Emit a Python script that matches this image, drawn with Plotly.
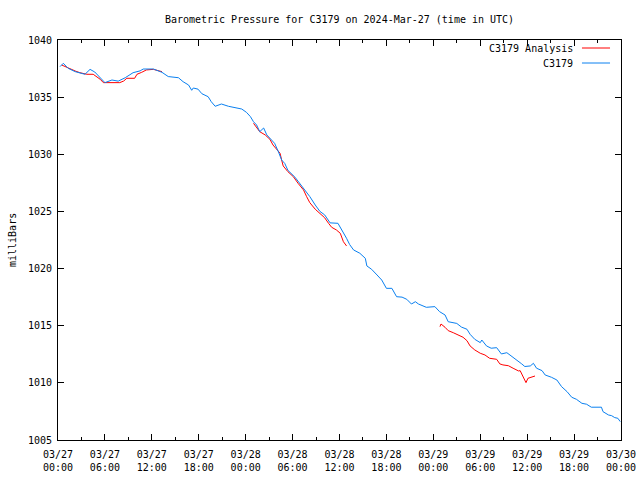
import datetime as dt
import plotly.graph_objects as go

BASE = dt.datetime(2024, 3, 27, 0, 0)

# C3179 observations: hours since 2024-03-27 00:00 UTC, pressure (mb)
obs_hours = [0.26, 0.68, 1.3, 2.2, 3.45, 4.1, 4.7, 5.4, 6.0, 6.9, 7.7, 8.6, 9.6, 10.5, 10.9,
             12.2, 13.3, 14.1, 15.4, 16.0, 16.7, 17.1, 17.3, 17.9, 18.4, 19.2, 19.6, 20.1,
             20.9, 21.8, 22.6, 23.5, 24.1, 24.6, 25.0, 25.4, 25.8, 26.3, 26.7, 27.3, 27.7,
             28.2, 28.6, 29.0, 29.4, 30.3, 30.9, 31.6, 32.2, 32.9, 33.5, 34.1, 34.8, 35.8,
             36.3, 36.9, 37.3, 37.8, 38.6, 39.3, 39.5, 40.1, 40.8, 41.4, 42.0, 42.7, 43.3,
             44.0, 44.6, 45.2, 45.7, 46.1, 47.1, 48.2, 48.8, 49.5, 49.9, 50.5, 51.0, 51.6,
             52.3, 52.7, 53.3, 54.0, 54.2, 54.8, 55.4, 56.1, 56.7, 57.4, 58.0, 58.9, 59.3,
             59.7, 60.4, 60.8, 61.2, 61.9, 62.3, 63.1, 63.8, 64.4, 65.1, 65.7, 66.3, 67.0,
             67.6, 68.2, 69.5, 69.7, 70.4, 70.8, 71.2, 71.6, 71.9]
obs_mb = [1037.67, 1037.96, 1037.52, 1037.23, 1037.0, 1037.43, 1037.2, 1036.65, 1036.27,
          1036.5, 1036.4, 1036.7, 1037.14, 1037.3, 1037.46, 1037.46, 1037.17, 1036.8, 1036.7,
          1036.35, 1036.06, 1035.6, 1035.8, 1035.7, 1035.3, 1035.04, 1034.6, 1034.2, 1034.4,
          1034.2, 1034.08, 1033.96, 1033.67, 1033.3, 1032.85, 1032.56, 1031.98, 1032.3,
          1031.7, 1031.25, 1030.96, 1030.2, 1029.5, 1029.2, 1028.6, 1028.0, 1027.46, 1026.9,
          1026.3, 1025.56, 1025.0, 1024.7, 1024.0, 1023.96, 1023.4, 1022.65, 1022.1, 1021.63,
          1021.34, 1020.9, 1020.23, 1019.94, 1019.44, 1019.0, 1018.27, 1018.27, 1017.54,
          1017.5, 1017.31, 1016.9, 1017.1, 1016.9, 1016.61, 1016.67, 1016.23, 1015.94,
          1015.35, 1015.24, 1015.2, 1014.88, 1014.69, 1014.25, 1013.81, 1013.52, 1013.75,
          1013.23, 1013.03, 1013.08, 1012.53, 1012.64, 1012.35, 1011.86, 1011.66, 1011.43,
          1011.48, 1011.71, 1011.28, 1011.07, 1010.69, 1010.49, 1010.25, 1009.67, 1009.23,
          1008.74, 1008.56, 1008.21, 1008.13, 1007.87, 1007.87, 1007.48, 1007.19, 1007.13,
          1006.96, 1006.9, 1006.61]

# C3179 Analysis (None = gap)
ana_hours = [0.47, 0.9, 1.3, 2.2, 2.8, 3.7, 4.5, 4.9, 5.4, 5.8, 6.6, 7.9, 8.4, 8.8, 9.8,
             10.1, 10.7, 11.3, 12.2, 13.0, 13.3, 19.0,
             25.0, 25.8, 26.5, 27.1, 27.5, 28.0, 28.4, 28.6, 28.8, 29.4, 30.1, 30.7, 31.4,
             31.8, 32.2, 32.9, 33.5, 34.1, 34.6, 35.0, 35.6, 36.1, 36.5, 36.9, 43.0,
             48.85, 48.98, 49.5, 49.9, 50.55, 51.2, 51.8, 52.3, 52.7, 53.3, 54.0, 54.6, 55.2,
             56.1, 56.5, 56.9, 57.6, 58.2, 58.9, 59.1, 59.5, 59.85, 60.1, 60.6, 61.0]
ana_mb = [1037.81, 1037.67, 1037.58, 1037.29, 1037.14, 1037.0, 1037.0, 1036.8, 1036.56,
          1036.27, 1036.27, 1036.27, 1036.41, 1036.65, 1036.65, 1037.0, 1037.17, 1037.38,
          1037.43, 1037.29, 1037.23, None,
          1032.71, 1031.98, 1031.69, 1031.31, 1030.81, 1030.38, 1030.09, 1029.5, 1028.98,
          1028.48, 1028.04, 1027.46, 1026.88, 1026.29, 1025.77, 1025.19, 1024.84, 1024.45,
          1023.96, 1023.61, 1023.38, 1023.09, 1022.35, 1021.98, None,
          1014.92, 1015.15, 1014.86, 1014.57, 1014.39, 1014.19, 1013.99, 1013.69, 1013.23,
          1012.88, 1012.59, 1012.44, 1012.15, 1012.06, 1011.66, 1011.57, 1011.5, 1011.28,
          1011.04, 1011.07, 1010.49, 1010.02, 1010.4, 1010.54, 1010.6]

Y_RANGE = [1005, 1040]
X_START = BASE
X_END = BASE + dt.timedelta(days=3)

RED = "#ff0000"
BLUE = "#0a80f0"
FONT = "DejaVu Sans Mono"


def to_time(hours):
    return [BASE + dt.timedelta(hours=h) for h in hours]


fig = go.Figure()
fig.add_trace(go.Scatter(x=to_time(ana_hours), y=ana_mb, mode="lines",
                         line=dict(color=RED, width=1), connectgaps=False,
                         name="C3179 Analysis", showlegend=False))
fig.add_trace(go.Scatter(x=to_time(obs_hours), y=obs_mb, mode="lines",
                         line=dict(color=BLUE, width=1),
                         name="C3179", showlegend=False))

axis_common = dict(showgrid=False, zeroline=False, showline=True, linecolor="black",
                   linewidth=1, mirror="ticks", ticks="inside", tickcolor="black",
                   automargin=False,
                   tickfont=dict(family=FONT, size=10, color="black"))

fig.update_xaxes(type="date", range=[X_START, X_END], dtick=6 * 3600 * 1000,
                 tick0=X_START, tickformat="%m/%d<br>%H:%M", ticklen=6,
                 ticklabelstandoff=5,
                 minor=dict(dtick=3 * 3600 * 1000, ticks="inside", ticklen=3,
                            tickcolor="black", showgrid=False),
                 **axis_common)
fig.update_yaxes(range=Y_RANGE, dtick=5, ticklen=6, ticklabelstandoff=3, **axis_common)

# Legend drawn gnuplot-style (text right, sample to its right)
legend_items = [("C3179 Analysis", RED, 0.98), ("C3179", BLUE, 0.9425)]
for label, color, yp in legend_items:
    fig.add_annotation(x=0.918, y=yp, xref="paper", yref="paper", text=label,
                       showarrow=False, xanchor="right", yanchor="middle",
                       font=dict(family=FONT, size=10, color="black"))
    fig.add_shape(type="line", xref="paper", yref="paper", x0=0.9307, x1=0.9805,
                  y0=yp, y1=yp, line=dict(color=color, width=1))

fig.add_annotation(x=-0.0817, y=0.5, xref="paper", yref="paper", text="milliBars",
                   textangle=-90, showarrow=False, xanchor="center", yanchor="middle",
                   font=dict(family=FONT, size=10, color="black"))

fig.update_layout(
    width=640, height=480,
    margin=dict(l=58, r=19, t=40, b=40, autoexpand=False),
    paper_bgcolor="white", plot_bgcolor="white",
    title=dict(text="Barometric Pressure for C3179 on 2024-Mar-27 (time in UTC)",
               x=(58 + 621) / 2 / 640, xanchor="center", y=1 - 19 / 480, yanchor="middle",
               font=dict(family=FONT, size=10, color="black")),
    showlegend=False,
)

fig.write_html("out.html", config={"displayModeBar": False},
               post_script="document.body.style.margin='0';document.body.style.overflow='hidden';")
